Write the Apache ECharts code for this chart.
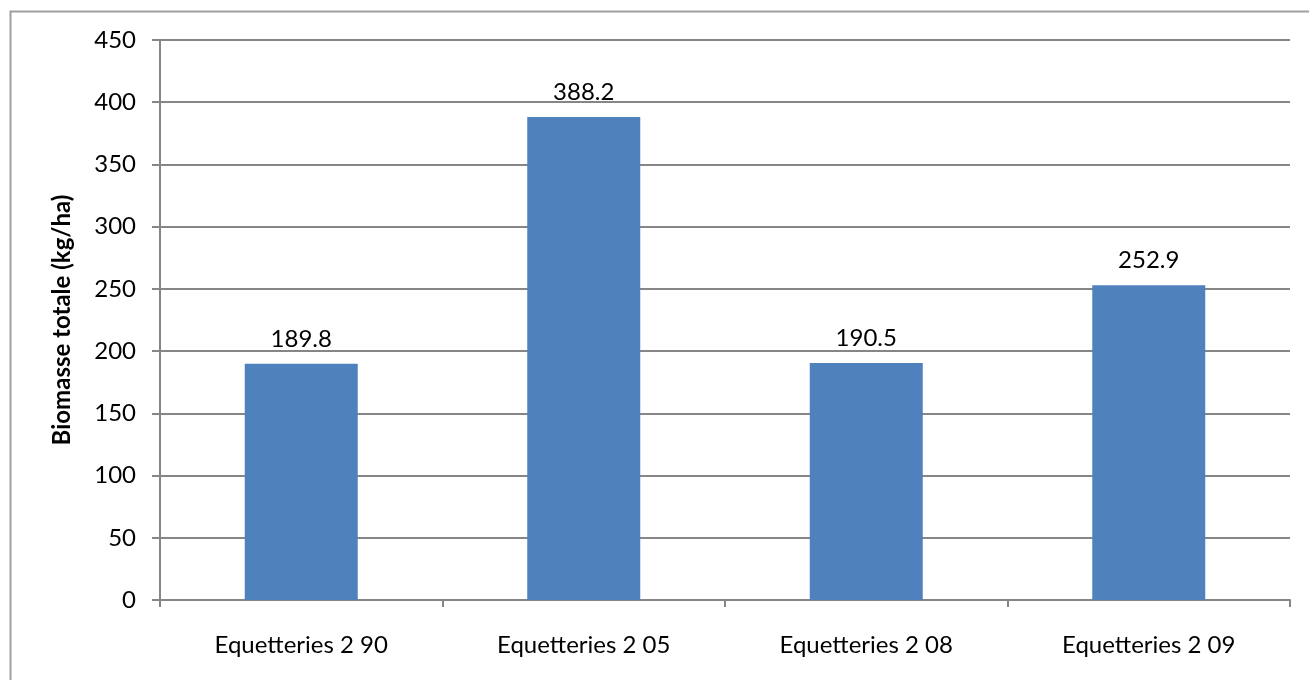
<!DOCTYPE html>
<html>
<head>
<meta charset="utf-8">
<script src="https://cdn.jsdelivr.net/npm/echarts@6/dist/echarts.min.js"></script>
<style>
  html, body { margin: 0; padding: 0; background: #ffffff; }
  #chart { width: 1309px; height: 680px; }
</style>
</head>
<body>
<div id="chart"></div>
<script>
// Total biomass per site
const categories = ['Equetteries 2 90', 'Equetteries 2 05', 'Equetteries 2 08', 'Equetteries 2 09'];
const biomass = [189.8, 388.2, 190.5, 252.9];
const yAxisTitle = 'Biomasse totale (kg/ha)';

const FONT = 'Lato';
const GRAY = '#868686';

const chart = echarts.init(document.getElementById('chart'), null, { renderer: 'canvas' });
chart.setOption({
  backgroundColor: '#ffffff',
  animation: false,
  graphic: [{
    type: 'rect',
    shape: { x: 10.5, y: 11.5, width: 1320, height: 700 },
    style: { fill: 'none', stroke: '#a0a0a0', lineWidth: 2 },
    silent: true,
    z: -1
  }],
  grid: { left: 160, right: 19, top: 40, bottom: 80 },
  xAxis: {
    type: 'category',
    data: categories,
    axisLine: { lineStyle: { color: GRAY, width: 2 } },
    axisTick: { show: true, length: 7, lineStyle: { color: GRAY, width: 2 } },
    axisLabel: { color: '#000', fontFamily: FONT, fontSize: 24, margin: 33 }
  },
  yAxis: {
    type: 'value',
    min: 0, max: 450, interval: 50,
    name: yAxisTitle,
    nameLocation: 'middle',
    nameGap: 86,
    nameRotate: 90,
    nameTextStyle: { color: '#000', fontFamily: FONT, fontSize: 24, fontWeight: 'bold' },
    axisLine: { show: true, lineStyle: { color: GRAY, width: 2 } },
    axisTick: { show: true, length: 8, lineStyle: { color: GRAY, width: 2 } },
    axisLabel: { color: '#000', fontFamily: FONT, fontSize: 24, margin: 24 },
    splitLine: { lineStyle: { color: GRAY, width: 2 } }
  },
  series: [{
    type: 'bar',
    data: biomass,
    barWidth: '40%',
    itemStyle: { color: '#4f81bd' },
    label: {
      show: true,
      position: 'top',
      distance: 13,
      color: '#000',
      fontFamily: FONT,
      fontSize: 24,
      formatter: p => p.value.toFixed(1)
    }
  }]
});
</script>
</body>
</html>
